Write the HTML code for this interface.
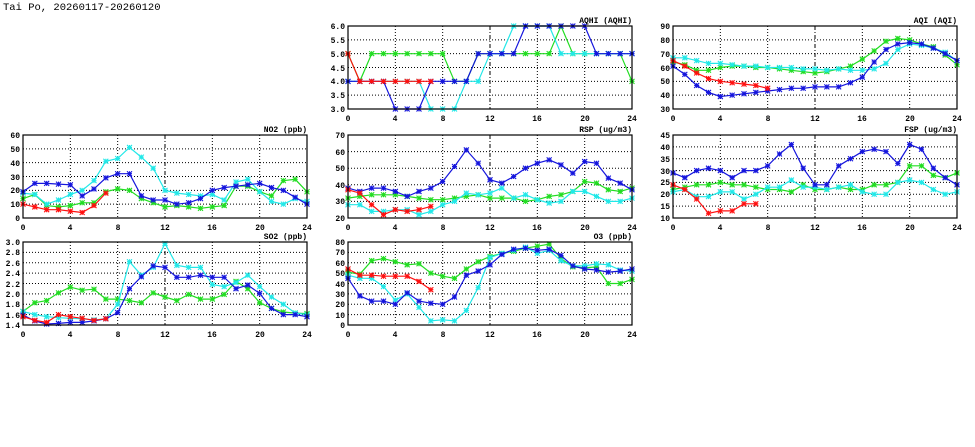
<!DOCTYPE html>
<html><head><meta charset="utf-8"><style>
body{margin:0;background:#fff}
svg{display:block}
text{font-family:"Liberation Mono",monospace;font-size:8px;fill:#000;font-weight:bold}
.r{text-anchor:end}.m{text-anchor:middle}
</style></head><body>
<svg id="s" width="975" height="447" viewBox="0 0 975 447" xmlns="http://www.w3.org/2000/svg">
<rect width="975" height="447" fill="#fff"/>
<g id="g"></g>
<text x="3" y="10" style="font-size:10.5px;font-weight:normal">Tai Po, 20260117-20260120</text>
<text class="r" x="632" y="23">AQHI (AQHI)</text>
<text class="r" x="957" y="23">AQI (AQI)</text>
<text class="r" x="307" y="132">NO2 (ppb)</text>
<text class="r" x="632" y="132">RSP (ug/m3)</text>
<text class="r" x="957" y="132">FSP (ug/m3)</text>
<text class="r" x="307" y="239">SO2 (ppb)</text>
<text class="r" x="632" y="239">O3 (ppb)</text>
<g>
<text class="m" x="348" y="121">0</text><text class="m" x="395" y="121">4</text><text class="m" x="443" y="121">8</text><text class="m" x="490" y="121">12</text><text class="m" x="537" y="121">16</text><text class="m" x="585" y="121">20</text><text class="m" x="632" y="121">24</text>
<text class="m" x="673" y="121">0</text><text class="m" x="720" y="121">4</text><text class="m" x="768" y="121">8</text><text class="m" x="815" y="121">12</text><text class="m" x="862" y="121">16</text><text class="m" x="910" y="121">20</text><text class="m" x="957" y="121">24</text>
<text class="m" x="23" y="230">0</text><text class="m" x="70" y="230">4</text><text class="m" x="118" y="230">8</text><text class="m" x="165" y="230">12</text><text class="m" x="212" y="230">16</text><text class="m" x="260" y="230">20</text><text class="m" x="307" y="230">24</text>
<text class="m" x="348" y="230">0</text><text class="m" x="395" y="230">4</text><text class="m" x="443" y="230">8</text><text class="m" x="490" y="230">12</text><text class="m" x="537" y="230">16</text><text class="m" x="585" y="230">20</text><text class="m" x="632" y="230">24</text>
<text class="m" x="673" y="230">0</text><text class="m" x="720" y="230">4</text><text class="m" x="768" y="230">8</text><text class="m" x="815" y="230">12</text><text class="m" x="862" y="230">16</text><text class="m" x="910" y="230">20</text><text class="m" x="957" y="230">24</text>
<text class="m" x="23" y="337">0</text><text class="m" x="70" y="337">4</text><text class="m" x="118" y="337">8</text><text class="m" x="165" y="337">12</text><text class="m" x="212" y="337">16</text><text class="m" x="260" y="337">20</text><text class="m" x="307" y="337">24</text>
<text class="m" x="348" y="337">0</text><text class="m" x="395" y="337">4</text><text class="m" x="443" y="337">8</text><text class="m" x="490" y="337">12</text><text class="m" x="537" y="337">16</text><text class="m" x="585" y="337">20</text><text class="m" x="632" y="337">24</text>
</g>
<text class="r" x="345" y="29">6.0</text><text class="r" x="345" y="43">5.5</text><text class="r" x="345" y="57">5.0</text><text class="r" x="345" y="71">4.5</text><text class="r" x="345" y="84">4.0</text><text class="r" x="345" y="98">3.5</text><text class="r" x="345" y="112">3.0</text>
<text class="r" x="670" y="29">90</text><text class="r" x="670" y="43">80</text><text class="r" x="670" y="57">70</text><text class="r" x="670" y="71">60</text><text class="r" x="670" y="84">50</text><text class="r" x="670" y="98">40</text><text class="r" x="670" y="112">30</text>
<text class="r" x="20" y="138">60</text><text class="r" x="20" y="152">50</text><text class="r" x="20" y="166">40</text><text class="r" x="20" y="180">30</text><text class="r" x="20" y="193">20</text><text class="r" x="20" y="207">10</text><text class="r" x="20" y="221">0</text>
<text class="r" x="345" y="138">70</text><text class="r" x="345" y="155">60</text><text class="r" x="345" y="171">50</text><text class="r" x="345" y="188">40</text><text class="r" x="345" y="204">30</text><text class="r" x="345" y="221">20</text>
<text class="r" x="670" y="138">45</text><text class="r" x="670" y="150">40</text><text class="r" x="670" y="162">35</text><text class="r" x="670" y="174">30</text><text class="r" x="670" y="185">25</text><text class="r" x="670" y="197">20</text><text class="r" x="670" y="209">15</text><text class="r" x="670" y="221">10</text>
<text class="r" x="20" y="245">3.0</text><text class="r" x="20" y="255">2.8</text><text class="r" x="20" y="266">2.6</text><text class="r" x="20" y="276">2.4</text><text class="r" x="20" y="287">2.2</text><text class="r" x="20" y="297">2.0</text><text class="r" x="20" y="307">1.8</text><text class="r" x="20" y="318">1.6</text><text class="r" x="20" y="328">1.4</text>
<text class="r" x="345" y="245">80</text><text class="r" x="345" y="255">70</text><text class="r" x="345" y="266">60</text><text class="r" x="345" y="276">50</text><text class="r" x="345" y="287">40</text><text class="r" x="345" y="297">30</text><text class="r" x="345" y="307">20</text><text class="r" x="345" y="318">10</text><text class="r" x="345" y="328">0</text>
</svg>
<script>
var W=284,H=83,NS="http://www.w3.org/2000/svg",g=document.getElementById("g");
function el(t,a){var e=document.createElementNS(NS,t);for(var k in a)e.setAttribute(k,a[k]);g.appendChild(e);return e;}
var C={r:"#ff1010",g:"#22dd22",c:"#22e8e8",b:"#1515dd"};
var P=[
{L:348,T:26,min:3,max:6,n:6,d:{
g:[5,4,5,5,5,5,5,5,5,4,4,5,5,5,5,5,5,5,6,5,5,5,5,5,4],
c:[4,4,4,4,4,4,4,3,3,3,4,4,5,5,6,6,6,6,5,5,5,5,5,5,5],
b:[4,4,4,4,3,3,3,4,4,4,4,5,5,5,5,6,6,6,6,6,6,5,5,5,5],
r:[5,4,4,4,4,4,4,4]}},
{L:673,T:26,min:30,max:90,n:6,d:{
g:[64,62,58,58,60,61,61,60,60,59,58,57,56,57,59,61,66,72,79,81,80,77,75,69,62],
c:[67,67,65,63,63,62,61,61,60,60,60,59,59,58,59,58,58,59,63,73,77,76,74,71,65],
b:[61,55,47,42,39,40,41,42,43,44,45,45,46,46,46,49,53,64,73,77,78,77,74,70,65],
r:[65,61,56,52,50,49,48,47,45]}},
{L:23,T:135,min:0,max:60,n:6,d:{
g:[14,17,9,8,9,11,11,19,21,20,14,11,8,9,8,7,8,9,23,23,19,16,27,28,19],
c:[18,17,10,13,17,20,27,41,43,51,44,36,20,18,17,16,17,13,26,28,19,12,10,14,12],
b:[19,25,25,24.5,24,16,21,29,32,32,16,13,13,10,11,14,20,22,23,24,25,22,20,15,10],
r:[10,8,6,6,5,4,9,18]}},
{L:348,T:135,min:20,max:70,n:5,d:{
g:[32,33,34,34,34,33,32,31,31,32,33,34,32,32,32,30,31,33,34,36,42,41,37,36,38],
c:[28,28,24,24,25,25,22,24,28,30,35,34,35,38,32,34,31,29,30,36,36,33,30,30,32],
b:[38,36,38,38,36,33,36,38,42,51,61,53,43,41,45,50,53,55,52,47,54,53,44,41,37],
r:[37,35,28,22,25,24,25,27]}},
{L:673,T:135,min:10,max:45,n:7,d:{
g:[22,23,24,24,25,24,24,23,22,22,21,24,22,22,23,22,22,24,24,25,32,32,28,27,29],
c:[21,22,19,19,21,21,18,20,23,23,26,23,23,22,23,24,21,20,20,25,26,25,22,20,21],
b:[29,27,30,31,30,27,30,30,32,37,41,31,24,24,32,35,38,39,38,33,41,39,31,27,24],
r:[24,22,18,12,13,13,16,16]}},
{L:23,T:242,min:1.4,max:3.0,n:8,d:{
g:[1.66,1.83,1.87,2.02,2.13,2.07,2.09,1.90,1.90,1.87,1.83,2.02,1.94,1.87,1.99,1.90,1.90,1.99,2.24,2.10,1.83,1.72,1.65,1.63,1.62],
c:[1.66,1.60,1.56,1.54,1.53,1.52,1.50,1.52,1.80,2.62,2.36,2.51,2.97,2.55,2.51,2.51,2.18,2.14,2.22,2.36,2.14,1.94,1.80,1.63,1.60],
b:[1.59,1.48,1.42,1.43,1.45,1.45,1.48,1.52,1.64,2.10,2.33,2.54,2.51,2.32,2.32,2.36,2.32,2.32,2.10,2.17,2.01,1.72,1.60,1.60,1.56],
r:[1.56,1.49,1.45,1.60,1.56,1.53,1.49,1.52]}},
{L:348,T:242,min:0,max:80,n:8,d:{
g:[51,49,62,64,61,58,59,50,47,45,54,61,66,69,71,74,76,78,64,56,55,56,40,40,44],
c:[48,45,45,37,24,30,17,4,5,4,14,36,65,69,72,75,69,72,62,57,57,59,58,53,52],
b:[45,28,23,23,20,31,23,21,20,27,48,52,58,68,73,74,72,73,67,57,54,53,51,52,54],
r:[54,48,48,47,47,47,42,34]}}
];
P.forEach(function(p){
  var L=p.L,T=p.T;
  for(var i=1;i<p.n;i++){var y=T+H*i/p.n;el("line",{x1:L,x2:L+W,y1:y,y2:y,stroke:"#000","stroke-width":1,"stroke-dasharray":"1,2"});}
  for(var k=1;k<6;k++){var x=L+W*k/6;el("line",{x1:x,x2:x,y1:T,y2:T+H,stroke:"#000","stroke-width":1,"stroke-dasharray":k==3?"4,2,1,2":"1,2"});}
  ["g","c","b","r"].forEach(function(s){
    var a=p.d[s],pts=[];
    a.forEach(function(v,h){var x=L+W*h/24,y=T+H*(p.max-v)/(p.max-p.min);y=Math.max(T,Math.min(T+H,y));pts.push([x,y]);});
    el("polyline",{points:pts.map(function(q){return q[0].toFixed(1)+","+q[1].toFixed(1)}).join(" "),fill:"none",stroke:C[s],"stroke-width":1.2});
    pts.forEach(function(q){var x=q[0],y=q[1],r=2.5;
      el("path",{d:"M"+(x-r)+","+(y-r)+"L"+(x+r)+","+(y+r)+"M"+(x-r)+","+(y+r)+"L"+(x+r)+","+(y-r)+"M"+(x-r)+","+y+"L"+(x+r)+","+y+"M"+x+","+(y-r)+"L"+x+","+(y+r),stroke:C[s],"stroke-width":1.1,fill:"none"});
    });
  });
  el("rect",{x:L,y:T,width:W,height:H,fill:"none",stroke:"#000","stroke-width":1.2});
});
</script>
</body></html>
